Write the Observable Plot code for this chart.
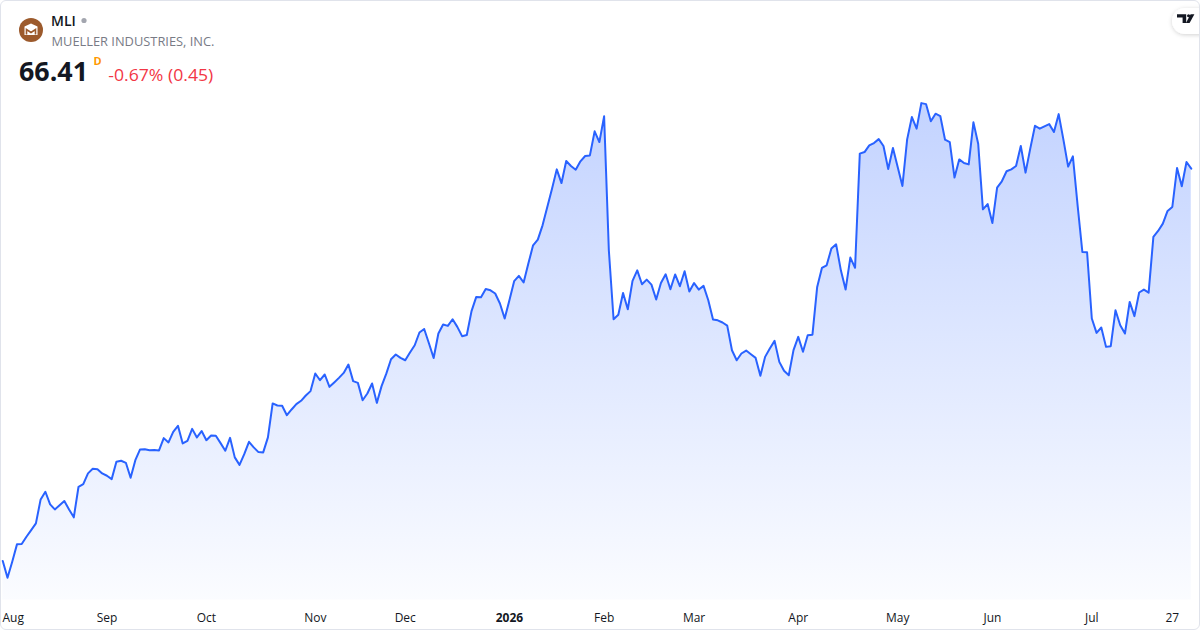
<!DOCTYPE html>
<html>
<head>
<meta charset="utf-8">
<script src="https://cdn.jsdelivr.net/npm/d3@7"></script>
<script src="https://cdn.jsdelivr.net/npm/@observablehq/plot@0.6"></script>
<style>
  html, body { margin: 0; padding: 0; background: #ffffff; }
  #card { position: relative; width: 1200px; height: 630px; box-sizing: border-box; border: 1px solid #e0e3eb; border-radius: 6px; overflow: hidden; background: #fff; font-family: "Open Sans", "Noto Sans", sans-serif; }
  #chart { position: absolute; left: -1px; top: -1px; }
  #header { position: absolute; left: -1px; top: -1px; pointer-events: none; }
</style>
</head>
<body>
<div id="card">
  <div id="chart"></div>
  <svg id="header" width="1200" height="100" xmlns="http://www.w3.org/2000/svg">
    <defs>
      <filter id="sh" x="-50%" y="-50%" width="200%" height="200%">
        <feDropShadow dx="0" dy="1" stdDeviation="2" flood-color="#000" flood-opacity="0.18"/>
      </filter>
    </defs>
    <circle cx="31" cy="30" r="12" fill="#9c5a2c"/>
    <path d="M24.5 26.5 L31 23.5 L37.5 26.5 L37.5 35 L24.5 35 Z" fill="#ffffff"/>
    <path d="M26.5 34.5 L26.5 29.5 L31 32.5 L35.5 29.5 L35.5 34.5" fill="none" stroke="#9c5a2c" stroke-width="1.6"/>
    <text x="51" y="26" font-family="Open Sans, Noto Sans, sans-serif" font-size="14" font-weight="600" fill="#131722">MLI</text>
    <circle cx="84" cy="20.5" r="2.6" fill="#a3a6af"/>
    <text x="51.5" y="45.5" font-family="Open Sans, Noto Sans, sans-serif" font-size="12.5" fill="#787b86" textLength="163" lengthAdjust="spacingAndGlyphs">MUELLER INDUSTRIES, INC.</text>
    <text x="19" y="81" font-family="Open Sans, Noto Sans, sans-serif" font-size="27.5" font-weight="700" fill="#131722" textLength="69" lengthAdjust="spacingAndGlyphs">66.41</text>
    <text x="93.5" y="65.3" font-family="Open Sans, Noto Sans, sans-serif" font-size="11" font-weight="700" fill="#ff9800">D</text>
    <text x="108.3" y="80.5" font-family="Open Sans, Noto Sans, sans-serif" font-size="17" fill="#f23645" textLength="105" lengthAdjust="spacingAndGlyphs">-0.67% (0.45)</text>
    <rect x="1172" y="8" width="50" height="26" rx="13" fill="#ffffff" filter="url(#sh)"/>
    <path d="M1177 14.3 H1186.2 V23 H1182.6 V17.4 H1177 Z" fill="#131722"/>
    <circle cx="1188.6" cy="15.8" r="1.55" fill="#131722"/>
    <path d="M1190.6 14.3 H1194.4 L1189.6 23 H1185.9 Z" fill="#131722"/>
  </svg>
</div>
<script>
// ---- data (daily closes, index 0 = 31 Jul 2025 ... 251 = 31 Jul 2026) ----
const closes = [
  39.71, 38.57, 39.66, 40.84, 40.86, 41.36, 41.81, 42.27, 43.90, 44.42,
  43.56, 43.22, 43.51, 43.79, 43.22, 42.68, 44.76, 44.94, 45.67, 45.98,
  45.96, 45.67, 45.51, 45.28, 46.46, 46.53, 46.39, 45.37, 46.57, 47.30,
  47.32, 47.25, 47.26, 47.23, 48.07, 47.78, 48.50, 48.91, 47.71, 47.89,
  48.70, 48.12, 48.55, 47.93, 48.25, 48.23, 47.73, 47.21, 48.09, 46.76,
  46.25, 46.98, 47.82, 47.44, 47.12, 47.10, 48.12, 50.43, 50.29, 50.27,
  49.63, 50.02, 50.38, 50.61, 50.97, 51.27, 52.47, 52.01, 52.40, 51.56,
  51.86, 52.17, 52.51, 53.08, 51.95, 51.83, 50.65, 51.11, 51.79, 50.47,
  51.61, 52.46, 53.44, 53.76, 53.53, 53.37, 53.90, 54.39, 55.26, 55.50,
  54.53, 53.52, 55.19, 55.80, 55.71, 56.16, 55.64, 55.01, 55.09, 56.71,
  57.68, 57.66, 58.22, 58.13, 57.91, 57.23, 56.21, 57.45, 58.75, 59.11,
  58.66, 59.95, 61.19, 61.58, 62.55, 63.80, 65.05, 66.36, 65.43, 66.93,
  66.59, 66.34, 66.91, 67.27, 67.31, 68.95, 68.22, 69.97, 60.85, 56.16,
  56.47, 57.95, 56.84, 58.77, 59.49, 58.54, 58.86, 58.52, 57.50, 58.63,
  59.22, 58.20, 59.21, 58.41, 59.43, 58.05, 58.62, 58.18, 58.43, 57.45,
  56.15, 56.09, 55.94, 55.73, 54.05, 53.37, 53.83, 54.03, 53.78, 53.53,
  52.31, 53.60, 54.17, 54.69, 53.26, 52.65, 52.35, 54.06, 54.96, 53.95,
  55.07, 55.11, 58.36, 59.65, 59.83, 60.97, 61.26, 59.49, 58.18, 60.36,
  59.66, 67.43, 67.54, 67.99, 68.15, 68.42, 67.95, 66.38, 67.81, 66.52,
  65.23, 68.40, 69.92, 69.13, 70.87, 70.80, 69.63, 70.15, 69.99, 68.38,
  68.22, 65.80, 67.04, 66.79, 66.70, 69.56, 68.11, 63.64, 64.00, 62.71,
  65.12, 65.55, 66.23, 66.36, 66.59, 67.95, 66.14, 67.77, 69.33, 69.13,
  69.29, 69.44, 68.90, 70.12, 68.39, 66.55, 67.25, 63.91, 60.74, 60.72,
  56.21, 55.23, 55.60, 54.28, 54.33, 56.77, 55.75, 55.19, 57.34, 56.37,
  57.98, 58.18, 57.97, 61.76, 62.17, 62.67, 63.53, 63.80, 66.45, 65.21,
  66.86, 66.41
];
// trading-day index of the first session of each month (and the last weekly mark)
const tickIndex = [1, 22, 43, 66, 85, 107, 127, 146, 168, 189, 209, 230, 247];
const tickLabels = ["Aug", "Sep", "Oct", "Nov", "Dec", "2026", "Feb", "Mar", "Apr", "May", "Jun", "Jul", "27"];
const tickBold = [false, false, false, false, false, true, false, false, false, false, false, false, false];
const priceRange = [37.054, 77.854];

const rows = closes.map((v, i) => ({i, v}));
const ticks = tickIndex.map((t, k) => ({t, label: tickLabels[k], bold: tickBold[k]}));

const gradientDefs = (index, scales) => {
  const yTop = scales && scales.y ? scales.y(d3.max(closes)) : 102;
  const yBot = scales && scales.y ? scales.y(priceRange[0]) : 600;
  const defs = d3.create("svg:defs");
  const g = defs.append("linearGradient")
    .attr("id", "mliGrad").attr("gradientUnits", "userSpaceOnUse")
    .attr("x1", 0).attr("x2", 0).attr("y1", yTop).attr("y2", yBot);
  g.append("stop").attr("offset", 0).attr("stop-color", "#2962ff").attr("stop-opacity", 0.28);
  g.append("stop").attr("offset", 1).attr("stop-color", "#2962ff").attr("stop-opacity", 0.02);
  return defs.node();
};

const textStyle = {fontFamily: "Open Sans, Noto Sans, sans-serif", fontSize: 12, fill: "#131722", lineAnchor: "middle", frameAnchor: "bottom", dy: 18};

const chart = Plot.plot({
  width: 1200,
  height: 630,
  marginLeft: 2.26,
  marginRight: 8.25,
  marginTop: 0,
  marginBottom: 30,
  x: {type: "linear", domain: [0, closes.length - 1], axis: null},
  y: {domain: priceRange, axis: null},
  style: {background: "transparent", overflow: "visible"},
  marks: [
    gradientDefs,
    Plot.areaY(rows, {x: "i", y1: priceRange[0], y2: "v", fill: "url(#mliGrad)"}),
    Plot.lineY(rows, {x: "i", y: "v", stroke: "#2962ff", strokeWidth: 2, strokeLinejoin: "round", strokeLinecap: "round"}),
    Plot.text(ticks.slice(0, 1), {x: "t", text: "label", textAnchor: "start", dx: -5, ...textStyle}),
    Plot.text(ticks.slice(1).filter(d => !d.bold), {x: "t", text: "label", textAnchor: "middle", ...textStyle}),
    Plot.text(ticks.filter(d => d.bold), {x: "t", text: "label", textAnchor: "middle", fontWeight: 700, ...textStyle})
  ]
});
document.getElementById("chart").appendChild(chart);
</script>
</body>
</html>
